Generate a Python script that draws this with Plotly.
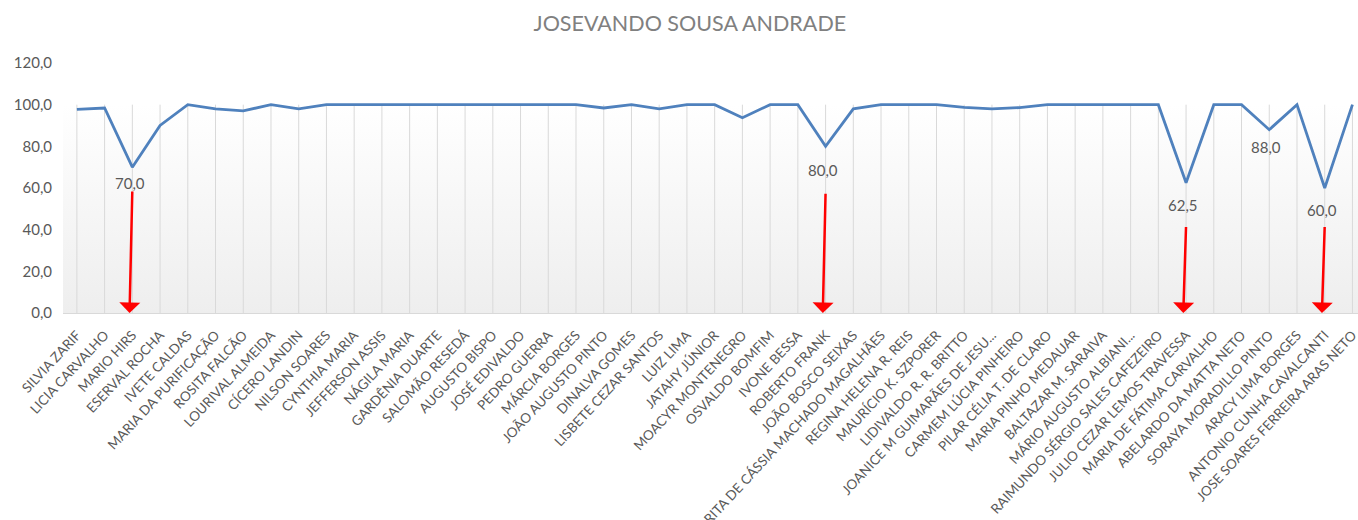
import plotly.graph_objects as go

# Participants, in the order they appear on the category axis
names = [
    "SILVIA ZARIF", "LICIA CARVALHO", "MARIO HIRS", "ESERVAL ROCHA", "IVETE CALDAS",
    "MARIA DA PURIFICAÇÃO", "ROSITA FALCÃO", "LOURIVAL ALMEIDA", "CÍCERO LANDIN",
    "NILSON SOARES", "CYNTHIA MARIA", "JEFFERSON ASSIS", "NÁGILA MARIA",
    "GARDÊNIA DUARTE", "SALOMÃO RESEDÁ", "AUGUSTO BISPO", "JOSÉ EDIVALDO",
    "PEDRO GUERRA", "MÁRCIA BORGES", "JOÃO AUGUSTO PINTO", "DINALVA GOMES",
    "LISBETE CEZAR SANTOS", "LUIZ LIMA", "JATAHY JÚNIOR", "MOACYR MONTENEGRO",
    "OSVALDO BOMFIM", "IVONE BESSA", "ROBERTO FRANK", "JOÃO BOSCO SEIXAS",
    "RITA DE CÁSSIA MACHADO MAGALHÃES", "REGINA HELENA R. REIS", "MAURÍCIO K. SZPORER",
    "LIDIVALDO R. R. BRITTO", "JOANICE M GUIMARÃES DE JESU...", "CARMEM LÚCIA PINHEIRO",
    "PILAR CÉLIA T. DE CLARO", "MARIA PINHO MEDAUAR", "BALTAZAR M. SARAIVA",
    "MÁRIO AUGUSTO ALBIANI...", "RAIMUNDO SÉRGIO SALES CAFEZEIRO",
    "JULIO CEZAR LEMOS TRAVESSA", "MARIA DE FÁTIMA CARVALHO", "ABELARDO DA MATTA NETO",
    "SORAYA MORADILLO PINTO", "ARACY LIMA BORGES", "ANTONIO CUNHA CAVALCANTI",
    "JOSE SOARES FERREIRA ARAS NETO",
]

# Percentage per participant
values = [
    97.7, 98.4, 70.0, 90.0, 100.0,
    98.0, 97.0, 100.0, 98.0,
    100.0, 100.0, 100.0, 100.0,
    100.0, 100.0, 100.0, 100.0,
    100.0, 100.0, 98.4, 100.0,
    98.0, 100.0, 100.0, 93.7,
    100.0, 100.0, 80.0, 98.0,
    100.0, 100.0, 100.0,
    98.7, 98.0, 98.6,
    100.0, 100.0, 100.0,
    100.0, 100.0,
    62.5, 100.0, 100.0,
    88.0, 100.0, 60.0,
    100.0,
]

# Participants whose value is written on the chart
labelled = ["MARIO HIRS", "ROBERTO FRANK", "JULIO CEZAR LEMOS TRAVESSA",
            "SORAYA MORADILLO PINTO", "ANTONIO CUNHA CAVALCANTI"]
# Participants highlighted with a red arrow
arrowed = ["MARIO HIRS", "ROBERTO FRANK", "JULIO CEZAR LEMOS TRAVESSA",
           "ANTONIO CUNHA CAVALCANTI"]

y_ticks = [0, 20, 40, 60, 80, 100, 120]

GRAY_TXT = "#595959"
FONT = "Lato"

idx = list(range(len(names)))
band_top = max(y_ticks[:-1])

fig = go.Figure()

# Shaded band from 0 to 100 with a soft vertical gradient
fig.add_trace(go.Scatter(
    x=[-0.5, len(names) - 0.5], y=[band_top, band_top],
    mode="lines", line=dict(width=0), fill="tozeroy",
    fillgradient=dict(type="vertical",
                      colorscale=[[0, "#eeeeee"], [1, "#ffffff"]]),
    hoverinfo="skip", showlegend=False,
))

# Vertical separators inside the band, one per category
gx, gy = [], []
for i in idx:
    gx += [i, i, None]
    gy += [0, band_top, None]
fig.add_trace(go.Scatter(
    x=gx, y=gy, mode="lines", line=dict(color="#d9d9d9", width=1),
    hoverinfo="skip", showlegend=False,
))

# Main series
fig.add_trace(go.Scatter(
    x=idx, y=values, mode="lines",
    line=dict(color="#4f81bd", width=2.8),
    showlegend=False,
))

# Value labels under the dips
label_shift = {"MARIO HIRS": -16, "ROBERTO FRANK": -24,
               "JULIO CEZAR LEMOS TRAVESSA": -22, "SORAYA MORADILLO PINTO": -17,
               "ANTONIO CUNHA CAVALCANTI": -22}
for n in labelled:
    i = names.index(n)
    fig.add_annotation(
        x=i - 0.1, y=values[i], yshift=label_shift[n],
        text=f"{values[i]:.1f}".replace(".", ","),
        showarrow=False, font=dict(family=FONT, size=15, color=GRAY_TXT),
    )

# Red arrows from below each label down to the axis
arrow_tail = {"MARIO HIRS": 59, "ROBERTO FRANK": 58,
              "JULIO CEZAR LEMOS TRAVESSA": 42, "ANTONIO CUNHA CAVALCANTI": 42}
for n in arrowed:
    i = names.index(n)
    fig.add_annotation(
        x=i - 0.1, y=0, ax=i, ay=arrow_tail[n],
        xref="x", yref="y", axref="x", ayref="y",
        showarrow=True, arrowhead=1, arrowsize=1.4, arrowwidth=2.5,
        arrowcolor="#ff0000", text="",
    )

fig.update_layout(
    width=1358, height=520,
    margin=dict(l=63, r=0, t=63, b=207),
    paper_bgcolor="white", plot_bgcolor="white",
    separators=",.",
    title=dict(text="JOSEVANDO SOUSA ANDRADE", x=0.508, xanchor="center",
               y=0.955, yanchor="middle", automargin=False,
               font=dict(family=FONT, size=21.5, color="#808080")),
    font=dict(family=FONT, color=GRAY_TXT),
)

fig.update_xaxes(
    range=[-0.5, 46.2], automargin=False,
    tickmode="array", tickvals=idx, ticktext=names,
    tickangle=-47, tickfont=dict(family=FONT, size=13.5, color=GRAY_TXT),
    ticklabeloverflow="allow", ticklabelstandoff=8,
    showgrid=False, zeroline=False,
    showline=True, linecolor="#d9d9d9", linewidth=1,
    ticks="",
)
fig.update_yaxes(
    range=[0, 120], automargin=False,
    tickmode="array", tickvals=y_ticks, tickformat=".1f",
    tickfont=dict(family=FONT, size=15, color=GRAY_TXT),
    showgrid=False, zeroline=False, showline=False,
    ticklabelstandoff=10,
)

fig.write_html("out.html")
